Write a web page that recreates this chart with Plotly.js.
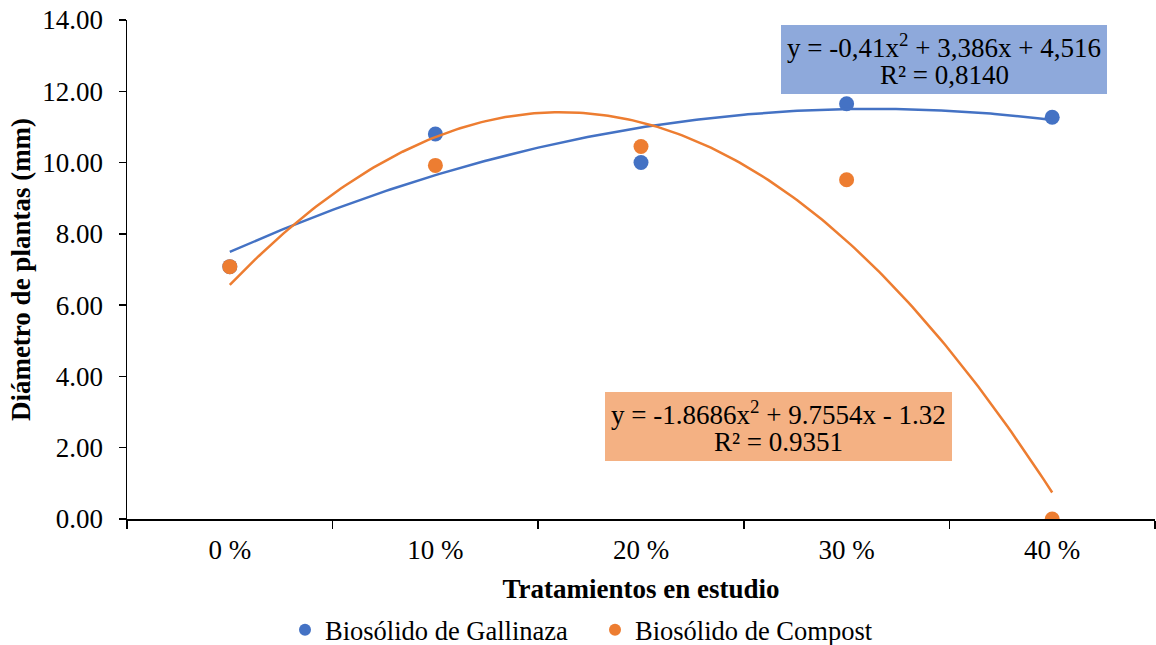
<!DOCTYPE html>
<html>
<head>
<meta charset="utf-8">
<script src="https://cdn.plot.ly/plotly-3.0.1.min.js"></script>
<style>html,body{margin:0;padding:0;background:#fff;}#chart{width:1156px;height:645px;}</style>
</head>
<body>
<div id="chart"></div>
<script>
// ---- data ----
const categories = ["0 %", "10 %", "20 %", "30 %", "40 %"];
const positions = [1, 2, 3, 4, 5];
const gallinaza = [7.08, 10.80, 10.00, 11.65, 11.27];
const compost = [7.08, 9.92, 10.45, 9.52, 0.00];
// Excel polynomial trendline coefficients (a, b, c) as shown in the chart labels
const gallinazaFit = [-0.41, 3.386, 4.516];
const compostFit = [-1.8686, 9.7554, -1.32];
const gallinazaEq = ["y = -0,41x<sup>2</sup> + 3,386x + 4,516", "R² = 0,8140"];
const compostEq = ["y = -1.8686x<sup>2</sup> + 9.7554x - 1.32", "R² = 0.9351"];
const seriesNames = ["Biosólido de Gallinaza", "Biosólido de Compost"];

const BLUE = "#4472C4", ORANGE = "#ED7D31";
const FONT = "Liberation Serif";
const FS = 27;

function trend(coef) {
  const xs = [], ys = [];
  for (let i = 0; i <= 200; i++) {
    const x = positions[0] + (positions[positions.length - 1] - positions[0]) * i / 200;
    xs.push(x);
    ys.push(coef[0] * x * x + coef[1] * x + coef[2]);
  }
  return {x: xs, y: ys};
}
const tG = trend(gallinazaFit), tC = trend(compostFit);

const traces = [
  {x: positions, y: gallinaza, name: seriesNames[0], type: "scatter", mode: "markers",
   marker: {color: BLUE, size: 15}},
  {x: positions, y: compost, name: seriesNames[1], type: "scatter", mode: "markers",
   marker: {color: ORANGE, size: 15}},
  {x: tG.x, y: tG.y, type: "scatter", mode: "lines", showlegend: false, hoverinfo: "skip",
   line: {color: BLUE, width: 2.5}},
  {x: tC.x, y: tC.y, type: "scatter", mode: "lines", showlegend: false, hoverinfo: "skip",
   line: {color: ORANGE, width: 2.5}}
];

// plot area in pixels: x 127..1155, y 20..519
const L = 127, R = 1155, T = 20, B = 519;
const px = v => (v - L) / (R - L);
const py = v => (B - v) / (B - T);

function box(x0, x1, y0, y1, color) {
  return {type: "rect", xref: "paper", yref: "paper", x0: px(x0), x1: px(x1), y0: py(y1), y1: py(y0),
          fillcolor: color, line: {width: 0}, layer: "above"};
}
function label(text, cx, cy) {
  return {text: text, xref: "paper", yref: "paper", x: px(cx), y: py(cy), xanchor: "center", yanchor: "middle",
          showarrow: false, font: {family: FONT, size: FS, color: "#000"}};
}

const layout = {
  width: 1156, height: 645,
  margin: {l: L, r: 1156 - R, t: T, b: 645 - B, autoexpand: false},
  paper_bgcolor: "#fff", plot_bgcolor: "#fff",
  font: {family: FONT, size: FS, color: "#000"},
  showlegend: true,
  legend: {orientation: "h", x: px(285), xanchor: "left", y: py(630), yanchor: "middle",
           entrywidth: 265, entrywidthmode: "pixels",
           font: {family: FONT, size: 26.5, color: "#000"}, itemsizing: "constant", tracegroupgap: 0},
  xaxis: {
    range: [0.5, 5.5], tickmode: "array", tickvals: positions, ticktext: categories, ticks: "",
    showline: true, linecolor: "#000", linewidth: 1.5, zeroline: false, showgrid: false,
    minor: {tickmode: "linear", tick0: 0.5, dtick: 1, ticks: "outside", ticklen: 8, tickwidth: 1.5, tickcolor: "#000"},
    ticklabelstandoff: 6,
    tickfont: {family: FONT, size: FS, color: "#000"},
    title: {text: "<b>Tratamientos en estudio</b>", font: {family: FONT, size: FS, color: "#000"}, standoff: 15},
    automargin: false, fixedrange: true
  },
  yaxis: {
    range: [0, 14], dtick: 2, tickformat: ".2f", ticks: "outside", ticklen: 7, tickwidth: 1.5, tickcolor: "#000",
    showline: true, linecolor: "#000", linewidth: 1.5, zeroline: false, showgrid: false,
    ticklabelstandoff: 10,
    tickfont: {family: FONT, size: FS, color: "#000"},
    title: {text: "<b>Diámetro de plantas (mm)</b>", font: {family: FONT, size: FS, color: "#000"}, standoff: 4},
    automargin: false, fixedrange: true
  },
  shapes: [
    box(781, 1107, 25, 94, "#8EA9DB"),
    box(605, 952, 392, 461, "#F4B183")
  ],
  annotations: [
    label(gallinazaEq[0], 944, 46),
    label(gallinazaEq[1], 944, 75),
    label(compostEq[0], 778, 413),
    label(compostEq[1], 778, 442)
  ]
};

Plotly.newPlot("chart", traces, layout, {displayModeBar: false, staticPlot: true});
</script>
</body>
</html>
